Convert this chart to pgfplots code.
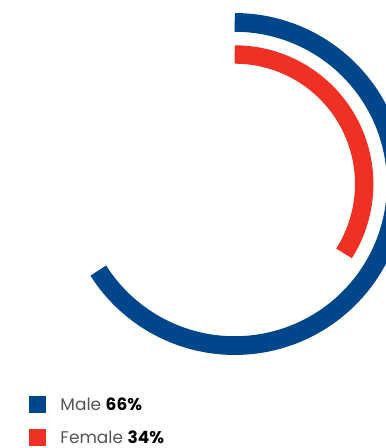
\documentclass[border=0pt]{standalone}
\usepackage{fontspec}
\setmainfont{Poppins}
\usepackage{pgfplots}
\pgfplotsset{compat=1.18}
\definecolor{cblue}{HTML}{00468B}
\definecolor{cred}{HTML}{EE3124}
\definecolor{cgray}{HTML}{555555}
\begin{document}
\begin{tikzpicture}
\begin{axis}[
  width=386bp, height=448bp, scale only axis,
  xmin=0, xmax=386, ymin=0, ymax=448, y dir=reverse,
  hide axis, clip=true,
  legend style={at={(axis cs:28.3,395.5)}, anchor=north west, draw=none, fill=none,
    font=\fontsize{17}{20}\selectfont, row sep=15bp, inner sep=0pt, column sep=0pt},
  legend cell align=left,
  legend image code/.code={\fill[#1, draw=none, line width=0pt] (0bp,-8.5bp) rectangle (17bp,8.5bp);},
]
% share values: Male 66, Female 34 (percent of full circle)
\addplot[cblue, line width=18.7bp, domain=0:66, samples=160, line cap=butt]
  ({234.7+161.6*sin(x*3.6)},{184-161.6*cos(x*3.6)});
\addlegendentry{\hspace{13bp}{\color{cgray}Male} \textbf{66\%}}
\addplot[cred, line width=18.4bp, domain=0:34, samples=100, line cap=butt]
  ({234.7+129.5*sin(x*3.6)},{184-129.5*cos(x*3.6)});
\addlegendentry{\hspace{13bp}{\color{cgray}Female} \textbf{34\%}}
\end{axis}
\pgfresetboundingbox
\path (current axis.south west) rectangle (current axis.north east);
\end{tikzpicture}
\end{document}
